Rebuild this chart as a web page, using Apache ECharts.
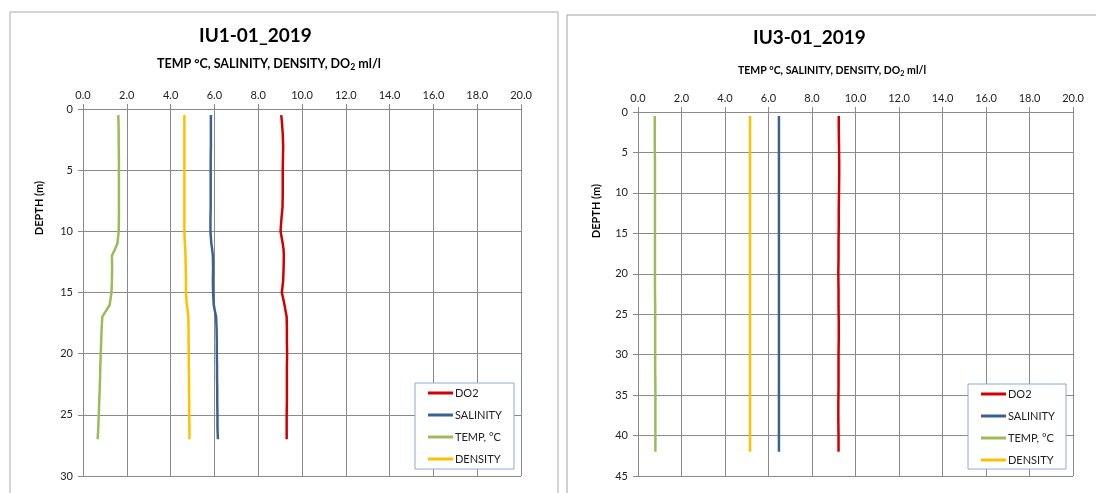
<!DOCTYPE html>
<html>
<head>
<meta charset="utf-8">
<script src="https://cdn.jsdelivr.net/npm/echarts@6/dist/echarts.min.js"></script>
<style>html,body{margin:0;padding:0;background:#fff}#c{width:1096px;height:493px}</style>
</head>
<body>
<div id="c"></div>
<script>
// ---- Data ----
const titles = ['IU1-01_2019', 'IU3-01_2019'];
const seriesNames = ['DO2', 'SALINITY', 'TEMP, °C', 'DENSITY'];
const xTicks = [0, 2, 4, 6, 8, 10, 12, 14, 16, 18, 20];

// Station IU1-01 (depth, m)
const depth1 = [0.5, 1, 2, 3, 4, 5, 6, 7, 8, 9, 10, 11, 11.5, 12, 13, 14, 15, 16, 16.5, 17, 18, 19, 20, 21, 22, 23, 24, 25, 26, 27];
const do2_1  = [9.05, 9.08, 9.12, 9.14, 9.13, 9.12, 9.12, 9.12, 9.11, 9.06, 9.02, 9.12, 9.16, 9.17, 9.16, 9.14, 9.08, 9.20, 9.25, 9.30, 9.31, 9.31, 9.32, 9.31, 9.31, 9.31, 9.31, 9.30, 9.30, 9.30];
const sal_1  = [5.84, 5.84, 5.84, 5.84, 5.83, 5.83, 5.83, 5.83, 5.83, 5.82, 5.82, 5.86, 5.90, 5.93, 5.94, 5.93, 5.94, 5.97, 6.02, 6.08, 6.10, 6.11, 6.11, 6.12, 6.12, 6.13, 6.13, 6.14, 6.14, 6.16];
const temp_1 = [1.61, 1.62, 1.63, 1.63, 1.64, 1.64, 1.64, 1.64, 1.64, 1.64, 1.63, 1.57, 1.45, 1.32, 1.33, 1.32, 1.30, 1.22, 1.05, 0.88, 0.85, 0.83, 0.81, 0.79, 0.78, 0.76, 0.74, 0.72, 0.70, 0.67];
const dens_1 = [4.63, 4.63, 4.63, 4.63, 4.63, 4.63, 4.63, 4.63, 4.63, 4.63, 4.63, 4.65, 4.67, 4.68, 4.69, 4.70, 4.70, 4.74, 4.78, 4.81, 4.82, 4.82, 4.83, 4.83, 4.84, 4.84, 4.85, 4.85, 4.86, 4.86];

// Station IU3-01 (depth, m)
const depth3 = [0.5, 2, 4, 6, 8, 10, 12, 14, 16, 18, 20, 22, 24, 26, 28, 30, 32, 34, 36, 38, 40, 42];
const do2_3  = [9.23, 9.23, 9.24, 9.25, 9.25, 9.24, 9.23, 9.23, 9.22, 9.22, 9.21, 9.22, 9.22, 9.23, 9.23, 9.22, 9.22, 9.22, 9.21, 9.21, 9.22, 9.22];
const sal_3  = [6.48, 6.48, 6.48, 6.48, 6.48, 6.48, 6.48, 6.48, 6.48, 6.48, 6.48, 6.48, 6.48, 6.48, 6.48, 6.48, 6.48, 6.48, 6.48, 6.48, 6.48, 6.48];
const temp_3 = [0.77, 0.77, 0.77, 0.78, 0.78, 0.78, 0.78, 0.78, 0.78, 0.78, 0.78, 0.78, 0.79, 0.79, 0.79, 0.79, 0.79, 0.80, 0.80, 0.80, 0.80, 0.80];
const dens_3 = [5.15, 5.15, 5.15, 5.15, 5.15, 5.15, 5.15, 5.15, 5.15, 5.15, 5.15, 5.15, 5.15, 5.15, 5.15, 5.15, 5.15, 5.15, 5.15, 5.15, 5.15, 5.15];

// ---- Styling ----
const colors = ['#d00000', '#3a6196', '#9bbb59', '#ffc000'];
const FONT = 'Lato, "Open Sans", "Liberation Sans", sans-serif';
const gridCol = '#8a8a8a';

const chart = echarts.init(document.getElementById('c'), null, {renderer: 'canvas'});

function pairs(depth, vals) { return vals.map((v, i) => [v, depth[i]]); }

const stations = [
  {depth: depth1, vals: [do2_1, sal_1, temp_1, dens_1], ymax: 30},
  {depth: depth3, vals: [do2_3, sal_3, temp_3, dens_3], ymax: 45}
];

const grids = [
  {left: 83, top: 109, width: 438, height: 367},
  {left: 638, top: 112, width: 435, height: 364}
];

const xAxes = grids.map((g, i) => ({
  type: 'value', gridIndex: i, position: 'top', min: xTicks[0], max: xTicks[xTicks.length - 1], interval: 2,
  axisLine: {show: true, lineStyle: {color: gridCol, width: 1}},
  axisTick: {show: true, inside: false, length: 5, lineStyle: {color: gridCol}},
  axisLabel: {formatter: v => v.toFixed(1), color: '#222', fontFamily: FONT, fontSize: 11, margin: 8},
  splitLine: {show: true, lineStyle: {color: gridCol, width: 1}}
}));

const yAxes = stations.map((s, i) => ({
  type: 'value', gridIndex: i, inverse: true, min: 0, max: s.ymax, interval: 5,
  axisLine: {show: true, lineStyle: {color: gridCol, width: 1}},
  axisTick: {show: true, inside: false, length: 5, lineStyle: {color: gridCol}},
  axisLabel: {color: '#222', fontFamily: FONT, fontSize: 11, margin: 10},
  splitLine: {show: true, lineStyle: {color: gridCol, width: 1}}
}));

const series = [];
stations.forEach((s, si) => {
  seriesNames.forEach((name, k) => {
    series.push({
      name: name, type: 'line', xAxisIndex: si, yAxisIndex: si,
      data: pairs(s.depth, s.vals[k]), showSymbol: false, symbol: 'none',
      lineStyle: {color: colors[k], width: 2.5}, itemStyle: {color: colors[k]},
      smooth: false, animation: false
    });
  });
});

const legendBoxes = [
  {x: 415, y: 383, w: 99, h: 86},
  {x: 968, y: 384, w: 98, h: 85}
];

const legends = legendBoxes.map(b => ({
  orient: 'vertical', left: b.x + 13, top: b.y + 3, itemGap: 8, z: 100,
  icon: 'rect', itemWidth: 25, itemHeight: 3, padding: 0,
  textStyle: {fontFamily: FONT, fontSize: 11, color: '#222', padding: [0, 0, 0, -3], lineHeight: 14},
  data: seriesNames.map((n, k) => ({name: n, itemStyle: {color: colors[k]}})),
  selectedMode: false
}));

const richSub = (fs) => ({s: {fontSize: fs * 0.7, fontWeight: 'bold', fontFamily: FONT, color: '#000', padding: [fs * 0.45, 0, 0, 0]}});

const option = {
  backgroundColor: '#fff',
  animation: false,
  title: [
    {text: titles[0], left: 194, top: 21, textStyle: {fontFamily: FONT, fontSize: 19, fontWeight: 'bold', color: '#000'}},
    {text: 'TEMP °C, SALINITY, DENSITY, DO{s|2} ml/l', left: 152, top: 52,
      textStyle: {fontFamily: FONT, fontSize: 12.5, fontWeight: 'bold', color: '#000', rich: richSub(12.5)}},
    {text: titles[1], left: 748, top: 23, textStyle: {fontFamily: FONT, fontSize: 19, fontWeight: 'bold', color: '#000'}},
    {text: 'TEMP °C, SALINITY, DENSITY, DO{s|2} ml/l', left: 733, top: 60,
      textStyle: {fontFamily: FONT, fontSize: 10.5, fontWeight: 'bold', color: '#000', rich: richSub(10.5)}}
  ],
  grid: grids,
  xAxis: xAxes,
  yAxis: yAxes,
  legend: legends,
  series: series,
  graphic: [
    {type: 'rect', shape: {x: 10, y: 12, width: 548, height: 500}, style: {fill: 'none', stroke: '#c8c8c8', lineWidth: 1.5}, z: -10},
    {type: 'rect', shape: {x: 567, y: 15, width: 560, height: 500}, style: {fill: 'none', stroke: '#a0a0a0', lineWidth: 1}, z: -10},
    {type: 'rect', shape: {x: legendBoxes[0].x, y: legendBoxes[0].y, width: legendBoxes[0].w, height: legendBoxes[0].h}, style: {fill: '#fff', stroke: '#8eaad6', lineWidth: 1}, z: 50},
    {type: 'rect', shape: {x: legendBoxes[1].x, y: legendBoxes[1].y, width: legendBoxes[1].w, height: legendBoxes[1].h}, style: {fill: '#fff', stroke: '#8eaad6', lineWidth: 1}, z: 50},
    {type: 'text', x: 39, y: 208, rotation: Math.PI / 2, z: 60,
      style: {text: 'DEPTH (m)', fontFamily: FONT, fontSize: 11, fontWeight: 'bold', fill: '#000', align: 'center', verticalAlign: 'middle'}},
    {type: 'text', x: 596, y: 211, rotation: Math.PI / 2, z: 60,
      style: {text: 'DEPTH (m)', fontFamily: FONT, fontSize: 11, fontWeight: 'bold', fill: '#000', align: 'center', verticalAlign: 'middle'}}
  ]
};
chart.setOption(option);
</script>
</body>
</html>
